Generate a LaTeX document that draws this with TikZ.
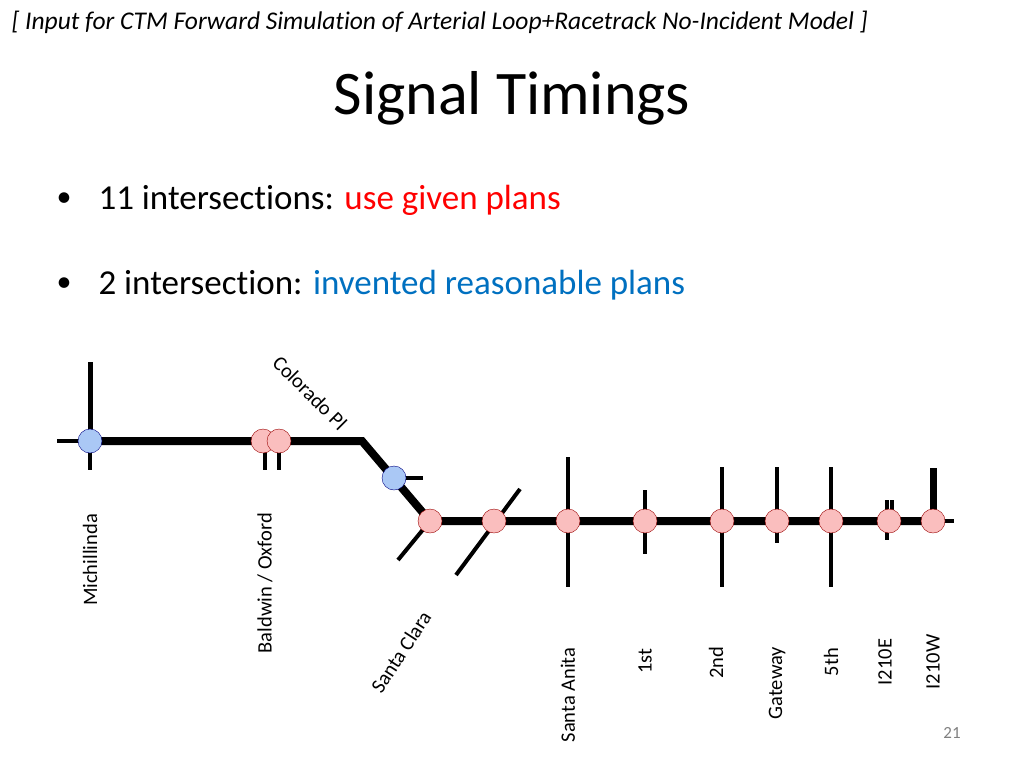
\documentclass[tikz,border=0pt]{standalone}
\usepackage{fontspec}
\setmainfont[RawFeature={-liga;-dlig}]{Carlito}
\usepackage{xcolor}
\definecolor{bluenode}{RGB}{170,200,245}
\definecolor{rednode}{RGB}{250,190,190}
\begin{document}
\begin{tikzpicture}[x=1pt,y=-1pt,
    sig/.style={circle, draw=red!60!black, fill=rednode, minimum size=24pt, inner sep=0pt},
    bsig/.style={circle, draw=blue!50!black, fill=bluenode, minimum size=24pt, inner sep=0pt},
    road/.style={line width=8pt},
    cross/.style={line width=4pt},
    lab/.style={font=\fontsize{20.5}{22}\selectfont, rotate=90}]
        \useasboundingbox (0,0) rectangle (1024,768);
        % Titles
        \node[anchor=west, font=\fontsize{25.5}{28}\selectfont\itshape] (hdr) at (8,22) {[ Input for CTM Forward Simulation of Arterial Loop+Racetrack No-Incident Model ]};
        \node[font=\fontsize{62}{70}\selectfont] (title) at (512,98) {Signal Timings};
        \node[anchor=west, font=\fontsize{35}{40}\selectfont] (b1) at (95,200) {11 intersections: \textcolor{red}{use given plans}};
        \node[font=\fontsize{30}{40}\selectfont] (d1) at (64,200) {\textbullet};
        \node[anchor=west, font=\fontsize{35}{40}\selectfont] (b2) at (95,285) {2 intersection: \textcolor[RGB]{0,112,192}{invented reasonable plans}};
        \node[font=\fontsize{30}{40}\selectfont] (d2) at (64,285) {\textbullet};
        % Cross streets
        \draw[line width=5pt] (90,362) -- (90,441);
        \draw[cross] (57,441) -- (90,441) -- (90,470);
        \draw[cross] (265,441) -- (265,470) (279,441) -- (279,470);
        \draw[cross] (394,478) -- (423,478);
        \draw[cross] (398,560) -- (430,521);
        \draw[cross] (520,489) -- (456,575);
        \draw[cross] (568,457) -- (568,587);
        \draw[cross] (645,490) -- (645,554);
        \draw[cross] (722,467) -- (722,587);
        \draw[cross] (777,467) -- (777,543);
        \draw[cross] (831,467) -- (831,587);
        \draw[cross] (887,500) -- (887,540) (892,500) -- (892,521);
        \draw[line width=7pt] (933,468) -- (933,521);
        \draw[cross] (933,521) -- (954,521);
        % Main road
        \draw[road] (90,441) -- (362,441) -- (430,521) -- (933,521);
        % Signals
        \node[bsig] (mich) at (90,441) {};
        \node[sig] (bald) at (263,441) {};
        \node[sig] (oxf) at (279,441) {};
        \node[bsig] (colo) at (394,478) {};
        \foreach \x/\n in {430/sc1,494/sc2,568/anita,645/first,722/second,777/gate,831/fifth,889/ie,933/iw}
            \node[sig] (\n) at (\x,521) {};
        % Labels
        \node[lab] (lmich) at (90,560) {Michillinda};
        \node[lab] (lbald) at (265,583) {Baldwin / Oxford};
        \node[font=\fontsize{20.5}{22}\selectfont, rotate=57] (lsc) at (401,652) {Santa Clara};
        \node[font=\fontsize{20.5}{22}\selectfont, rotate=-45] (lcolo) at (310,393) {Colorado Pl};
        \node[lab] (lanita) at (568,695) {Santa Anita};
        \node[lab] (lfirst) at (645,661) {1st};
        \node[lab] (lsecond) at (716,663) {2nd};
        \node[lab] (lgate) at (777,683) {Gateway};
        \node[lab] (lfifth) at (831,662) {5th};
        \node[lab] (lie) at (885,662) {I210E};
        \node[lab] (liw) at (933,662) {I210W};
        \node[font=\fontsize{17}{19}\selectfont, text=gray] (pg) at (952,733) {21};
\end{tikzpicture}
\end{document}
